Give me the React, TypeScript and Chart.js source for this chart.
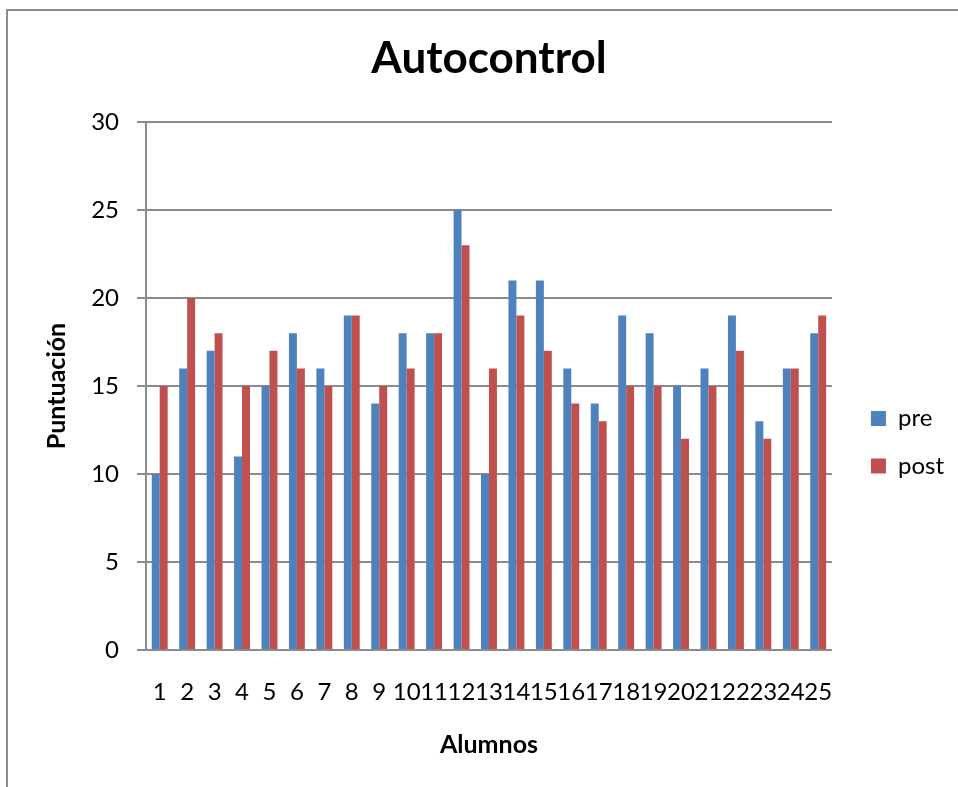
import React, { useEffect, useRef } from "react";
import { Chart, registerables } from "chart.js";

Chart.register(...registerables);

const chartTitle = "Autocontrol";
const xTitle = "Alumnos";
const yTitle = "Puntuación";
const categories = ["1","2","3","4","5","6","7","8","9","10","11","12","13","14","15","16","17","18","19","20","21","22","23","24","25"];
const preValues = [10,16,17,11,15,18,16,19,14,18,18,25,10,21,21,16,14,19,18,15,16,19,13,16,18];
const postValues = [15,20,18,15,17,16,15,19,15,16,18,23,16,19,17,14,13,15,15,12,15,17,12,16,19];
const seriesNames = ["pre", "post"];
const yMin = 0;
const yMax = 30;
const yStep = 5;

const GRID = "#8c8c8c";
const FONT = "Lato";

export default function App() {
  const ref = useRef<HTMLCanvasElement | null>(null);

  useEffect(() => {
    if (!ref.current) return;
    const chart = new Chart(ref.current, {
      type: "bar",
      data: {
        labels: categories,
        datasets: [
          { label: seriesNames[0], data: preValues, backgroundColor: "#4F81BD", borderWidth: 0 },
          { label: seriesNames[1], data: postValues, backgroundColor: "#C0504D", borderWidth: 0 },
        ],
      },
      options: {
        animation: false,
        responsive: false,
        devicePixelRatio: 1,
        layout: { padding: { left: 0, right: 4, top: 0, bottom: 0 } },
        datasets: { bar: { categoryPercentage: 0.58, barPercentage: 1 } },
        plugins: {
          title: {
            display: true,
            fullSize: false,
            text: chartTitle,
            color: "#000",
            font: { family: FONT, size: 44, weight: "bold" },
            padding: { top: 32.6, bottom: 36.6 },
          },
          legend: {
            position: "right",
            align: "center",
            title: { display: true, text: "", font: { size: 1, lineHeight: 1 }, padding: { top: 96.5, bottom: 0 } },
            labels: {
              boxWidth: 15,
              boxHeight: 15,
              padding: 23.5,
              color: "#000",
              font: { family: FONT, size: 24 },
            },
          },
          tooltip: { enabled: false },
        },
        scales: {
          x: {
            grid: { display: false, drawTicks: false },
            border: { display: true, color: GRID, width: 2 },
            ticks: {
              autoSkip: false,
              maxRotation: 0,
              minRotation: 0,
              padding: 28.1,
              color: "#000",
              font: { family: FONT, size: 24 },
            },
            title: {
              display: true,
              text: xTitle,
              color: "#000",
              font: { family: FONT, size: 25, weight: "bold" },
              padding: { top: 0, bottom: 27 },
            },
            afterFit: (s: any) => { s.height = 137; },
          },
          y: {
            min: yMin,
            max: yMax,
            ticks: {
              stepSize: yStep,
              padding: 18,
              color: "#000",
              font: { family: FONT, size: 24 },
            },
            grid: { color: GRID, lineWidth: 2, drawTicks: true, tickLength: 9, tickColor: GRID },
            border: { display: true, color: GRID, width: 2 },
            title: {
              display: true,
              text: yTitle,
              color: "#000",
              font: { family: FONT, size: 25, weight: "bold" },
              padding: { top: 42, bottom: 0 },
            },
            afterFit: (s: any) => { s.width = 146; },
          },
          yR: {
            position: "right",
            display: true,
            grid: { display: false, drawTicks: false },
            border: { display: false },
            ticks: { display: false },
            afterFit: (s: any) => { s.width = 15.5; },
          },
        },
      },
    });
    return () => chart.destroy();
  }, []);

  return (
    <div style={{ position: "absolute", left: 0, top: 0, width: 958, height: 787, background: "#fff" }}>
      <canvas ref={ref} width={958} height={787} style={{ position: "absolute", left: 0, top: 0 }} />
      <div
        style={{
          position: "absolute",
          left: 6,
          top: 9,
          width: 952,
          height: 778,
          borderLeft: "2px solid #8c8c8c",
          borderTop: "2px solid #8c8c8c",
          boxSizing: "border-box",
          pointerEvents: "none",
        }}
      />
    </div>
  );
}
